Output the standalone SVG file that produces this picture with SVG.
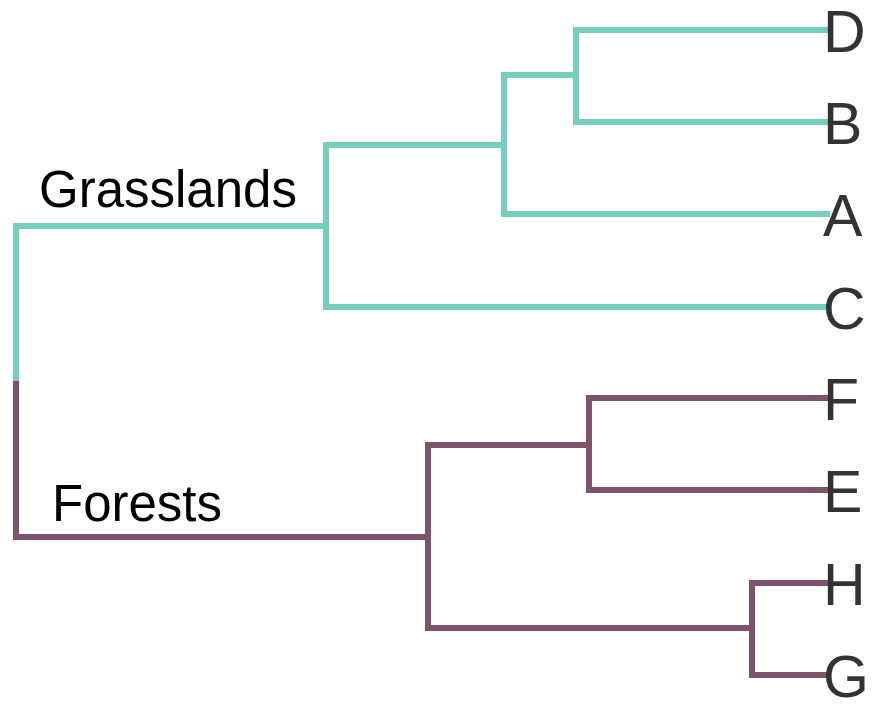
<svg xmlns="http://www.w3.org/2000/svg" width="873" height="704" viewBox="0 0 873 704">
<style>
.g{fill:none;stroke:#76cfbd;stroke-width:6;stroke-linecap:square}
.f{fill:none;stroke:#7f536b;stroke-width:6;stroke-linecap:square}
.leaf{font-family:"Liberation Sans",Arial,sans-serif;font-size:59px;fill:#333}
.grp{font-family:"Liberation Sans",Arial,sans-serif;font-size:51px;fill:#000}
</style>
<rect width="873" height="704" fill="#fff"/>
<g id="connectors">
<path class="g" d="M16 382V226H326M326 145V307M326 145H504M504 75V214M504 75H576M576 30V122M576 30H827M576 122H827M504 214H827M326 307H827"/>
<path class="f" d="M16 384V537H428M428 445V628M428 445H589M589 398V490M589 398H827M589 490H827M428 628H752M752 583V675M752 583H827M752 675H827"/>
</g>
<g id="grasslands"><text class="grp" x="39" y="207">Grasslands</text></g>
<g id="forests"><text class="grp" x="52" y="521">Forests</text></g>
<g id="D"><text class="leaf" x="823" y="52">D</text></g>
<g id="B"><text class="leaf" x="823" y="144">B</text></g>
<g id="A"><text class="leaf" x="823" y="236">A</text></g>
<g id="C"><text class="leaf" x="823" y="329">C</text></g>
<g id="F"><text class="leaf" x="823" y="420">F</text></g>
<g id="E"><text class="leaf" x="823" y="512">E</text></g>
<g id="H"><text class="leaf" x="823" y="605">H</text></g>
<g id="G"><text class="leaf" x="823" y="697">G</text></g>
</svg>
